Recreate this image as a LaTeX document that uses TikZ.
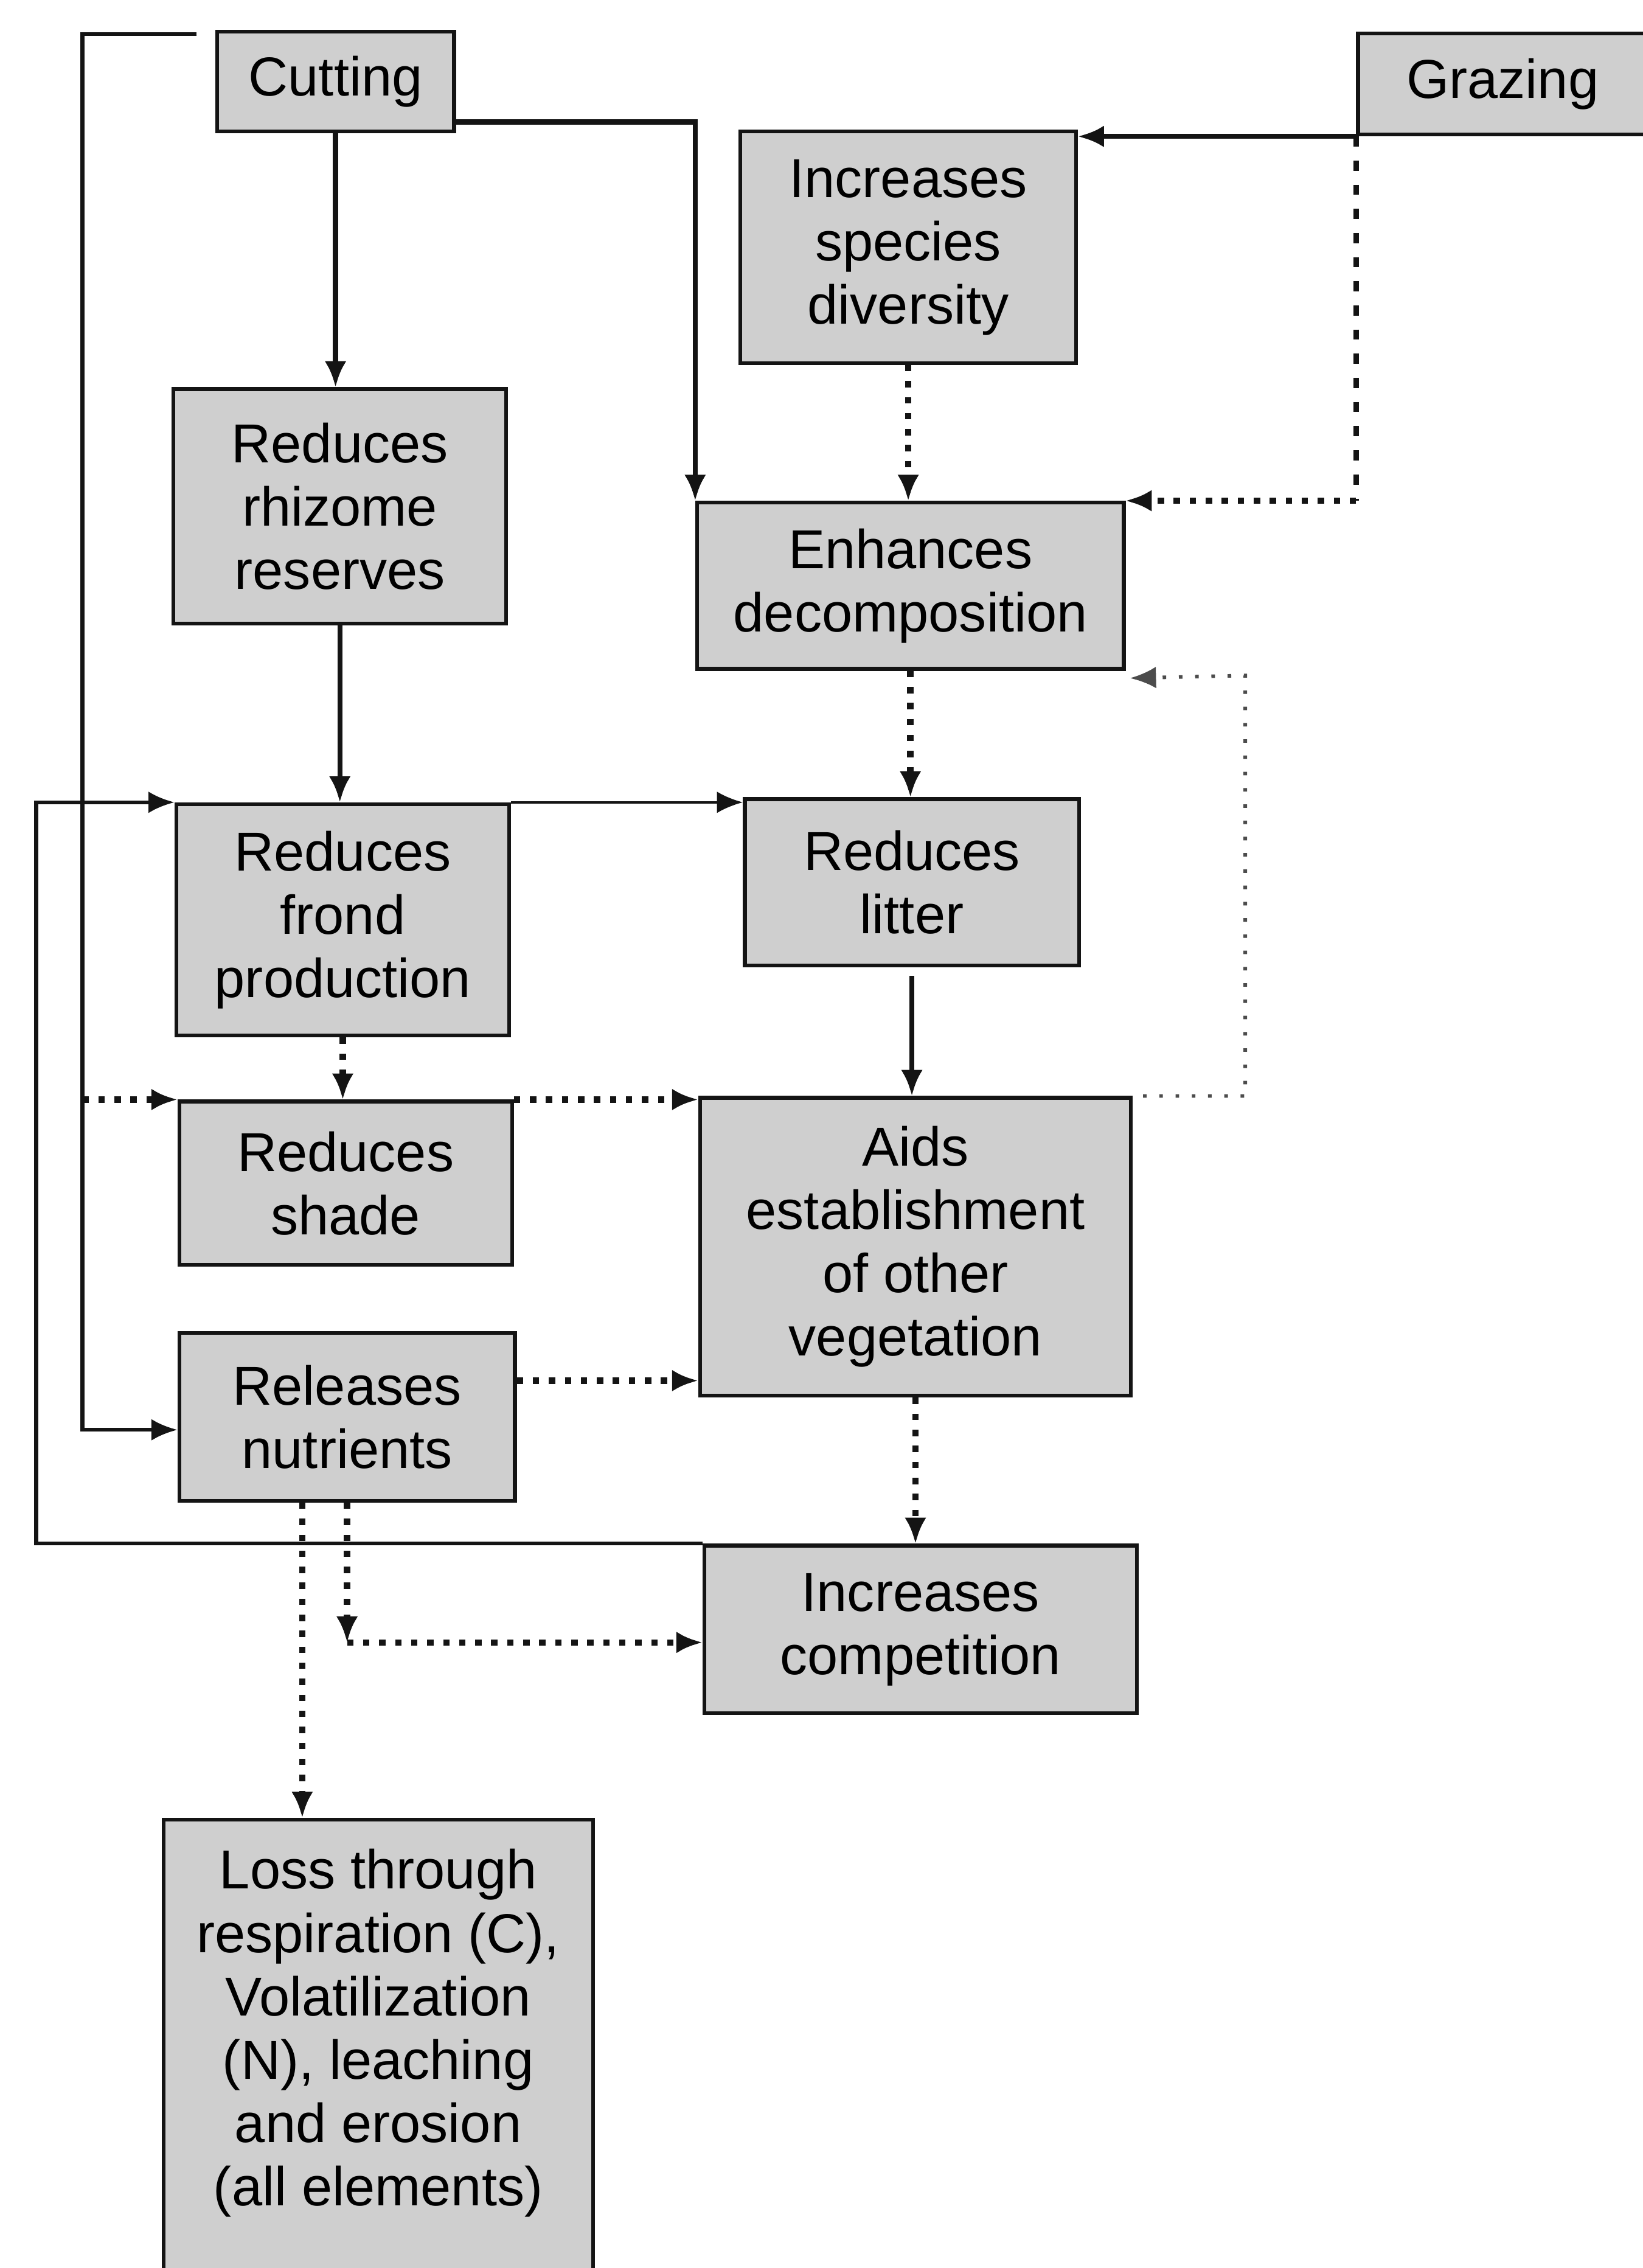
\documentclass[tikz,border=0pt]{standalone}
\usepackage{fontspec}
\setmainfont{Liberation Sans}
\usetikzlibrary{arrows.meta,calc}

\definecolor{boxfill}{RGB}{207,207,207}
\definecolor{inkline}{RGB}{20,20,20}

\begin{document}
\begin{tikzpicture}[x=0.02cm, y=-0.02cm,
  box/.style={draw=inkline, line width=1.5pt, fill=boxfill, inner sep=0pt,
    align=center, font=\fontsize{21.6}{24.9}\selectfont, text=black},
  bx/.style 2 args={box, minimum width=#1*0.02cm, minimum height=#2*0.02cm},
  tip/.style={-{Latex[length=0.36cm, width=0.3cm]}},
  heavy/.style={tip, draw=inkline, line width=2pt},
  medium/.style={draw=inkline, line width=1.5pt},
  light/.style={draw=inkline, line width=1.1pt},
  dots/.style={draw=inkline, line width=2.5pt, dash pattern=on 2.5pt off 3.8pt},
  dashes/.style={draw=inkline, line width=2pt, dash pattern=on 4pt off 5.5pt},
  faintdots/.style={draw=black!70, line width=1.4pt, dash pattern=on 1.4pt off 5pt},
]
% page
\fill[white] (0,0) rectangle (1136,1568);
\useasboundingbox (0,0) rectangle (1136,1568);

% boxes
\node[bx={164}{69}]  (cut)    at (232,56.5)    {Cutting};
\node[bx={200}{70}]  (graz)   at (1039,58)     {Grazing};
\node[bx={232}{160}] (inc)    at (628,171)     {Increases\\species\\diversity};
\node[bx={230}{162}] (rhiz)   at (235,350)     {Reduces\\rhizome\\reserves};
\node[bx={295}{115}] (enh)    at (629.5,405)   {Enhances\\decomposition};
\node[bx={230}{160}] (frond)  at (237,636)     {Reduces\\frond\\production};
\node[bx={231}{115}] (litter) at (630.5,610)   {Reduces\\litter};
\node[bx={230}{113}] (shade)  at (239,818)     {Reduces\\shade};
\node[bx={298}{206}] (aids)   at (633,862)     {Aids\\establishment\\of other\\vegetation};
\node[bx={232}{116}] (rel)    at (240,979.5)   {Releases\\nutrients};
\node[bx={299}{116}] (comp)   at (636.5,1126.5){Increases\\competition};
\node[bx={297}{344}] (loss)   at (261.5,1430)
  {Loss through\\respiration (C),\\Volatilization\\(N), leaching\\and erosion\\(all elements)\\\strut};

% helper points for routed connectors
\coordinate (cutL)   at (136,23.5);
\coordinate (iL)     at (57,0);
\coordinate (oL)     at (25,0);
\coordinate (relin)  at ($(rel.west)+(0,9)$);
\coordinate (relE)   at ($(rel.east)+(0,-25)$);
\coordinate (relS)   at ($(rel.south)+(-31,0)$);
\coordinate (gturn)  at (graz.south west |- enh.north east);
\coordinate (loopc)  at (861,467);
\coordinate (rcturn) at ($(rel.south |- comp.west)+(0,9)$);

% solid connectors
\draw[heavy] (cut.south) -- (cut.south |- rhiz.north);
\draw[heavy] ($(cut.south east)+(0,-8)$) -| (enh.north west);
\draw[heavy] (graz.south west) -- (graz.south west -| inc.north east);
\draw[heavy] (rhiz.south) -- (rhiz.south |- frond.north);
\draw[heavy] ($(litter.south)+(0,6)$) -- (litter.south |- aids.north);
\draw[medium, tip] (cutL) -| (iL |- relin) -- (relin);
\draw[medium, tip] (comp.north west) -| (oL |- frond.north west) -- (frond.north west);
\draw[light, tip] (frond.north east) -- (frond.north east -| litter.north west);

% dotted connectors
\draw[dashes] (graz.south west) -- (gturn);
\draw[dots, tip] (gturn) -- (enh.north east);
\draw[dots, tip] (inc.south) -- (inc.south |- enh.north);
\draw[dots, tip] (enh.south) -- (enh.south |- litter.north);
\draw[faintdots, tip] ($(aids.north east)+(7,0)$) -| (loopc) -- ($(enh.south east)+(3,5)$);
\draw[dots, tip] (frond.south) -- (frond.south |- shade.north);
\draw[dots, tip] (iL |- shade.north west) -- (shade.north west);
\draw[dots, tip] (shade.north east) -- (shade.north east -| aids.north west);
\draw[dots, tip] (relE) -- (relE -| aids.west);
\draw[dots, tip] (aids.south) -- (aids.south |- comp.north);
\draw[dots, tip] (relS) -- (relS |- loss.north);
\draw[dots, tip] (rel.south) -- (rcturn);
\draw[dots, tip] (rcturn) -- (rcturn -| comp.west);
\end{tikzpicture}
\end{document}
